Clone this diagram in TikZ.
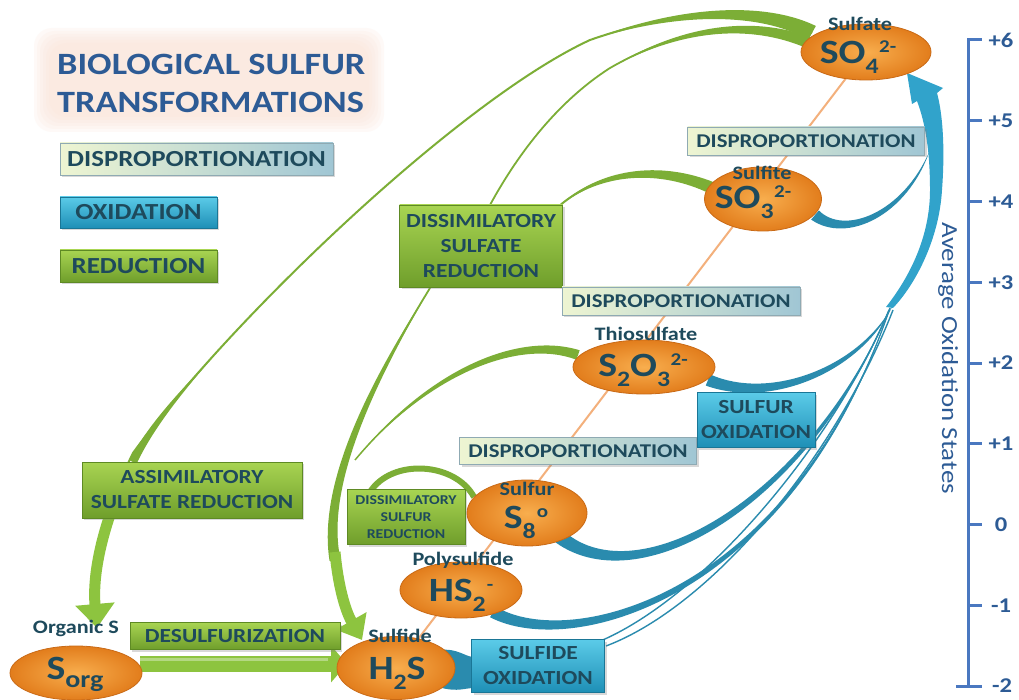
\documentclass[tikz,border=0pt]{standalone}
\usepackage{fontspec}
\setmainfont{Carlito}
\newfontfamily\wf[FakeStretch=1.17]{Carlito}
\usetikzlibrary{calc,arrows.meta,shadows,shapes.geometric}
\definecolor{txt}{HTML}{1E4A5C}
\definecolor{ttl}{HTML}{2D5B95}
\definecolor{axc}{HTML}{4A78C0}
\definecolor{oraIn}{HTML}{F8AE4E}
\definecolor{oraOut}{HTML}{E27D1C}
\definecolor{oraD}{HTML}{C96A16}
\definecolor{oline}{HTML}{F3B07C}
\definecolor{grn}{HTML}{7CAE36}
\definecolor{grnA}{HTML}{8DC43F}
\definecolor{grnT}{HTML}{A8D452}
\definecolor{grnB}{HTML}{6F9E2B}
\definecolor{grnD}{HTML}{5E8A24}
\definecolor{blu}{HTML}{2A8BAE}
\definecolor{bluA}{HTML}{31A3CB}
\definecolor{bluT}{HTML}{5BCBE8}
\definecolor{bluB}{HTML}{1E8FB6}
\definecolor{bluD}{HTML}{1A7696}
\definecolor{dspL}{HTML}{EEF5D2}
\definecolor{dspR}{HTML}{A0C6D4}
\definecolor{dspD}{HTML}{8FAAB3}
\definecolor{glow}{HTML}{FBE3D6}
\newcommand{\subx}[1]{\raisebox{-10pt}{\fontsize{22}{22}\selectfont #1}}
\newcommand{\supx}[1]{\raisebox{11pt}{\fontsize{18}{18}\selectfont #1}}
\newcommand{\taper}[6]{%
\fill[#1] let \p1=(#2), \p2=(#3), \p3=(#4), \p4=(#5),
 \n1={atan2(\y2-\y1,\x2-\x1)}, \n2={atan2(\y3-\y2,\x3-\x2)}, \n3={atan2(\y4-\y3,\x4-\x3)} in
 ($(\p1)+(\n1+90:#6)$) .. controls ($(\p2)+(\n2+90:0.8*#6)$) and ($(\p3)+(\n3+90:0.4*#6)$) .. (\p4)
 .. controls ($(\p3)+(\n3-90:0.4*#6)$) and ($(\p2)+(\n2-90:0.8*#6)$) .. ($(\p1)+(\n1-90:#6)$) -- cycle;}
\tikzset{
 lbl/.style={text=txt, font=\wf\bfseries\fontsize{20}{25}\selectfont, align=center, inner sep=0pt},
 shd/.style={drop shadow={opacity=.3,shadow xshift=2pt,shadow yshift=-2pt}},
 redbox/.style={lbl, shd, draw=grnD, line width=0.8pt, top color=grnT, bottom color=grnB},
 oxbox/.style={lbl, shd, draw=bluD, line width=0.8pt, top color=bluT, bottom color=bluB},
 dspbox/.style={lbl, shd, draw=dspD, line width=0.8pt, left color=dspL, right color=dspR, font=\wf\bfseries\fontsize{19.5}{24}\selectfont},
 spec/.style={ellipse, draw=oraD, line width=0.8pt, inner color=oraIn, outer color=oraOut, inner sep=0pt},
 nm/.style={text=txt, font=\wf\bfseries\fontsize{19}{19}\selectfont, inner sep=0pt, anchor=base},
 fm/.style={text=txt, font=\wf\bfseries\fontsize{34}{34}\selectfont, inner sep=0pt, anchor=base},
 axlbl/.style={text=ttl, font=\wf\bfseries\fontsize{21}{21}\selectfont, inner sep=0pt},
}
\begin{document}
\begin{tikzpicture}[x=1pt,y=-1pt]
\useasboundingbox (0,0) rectangle (1019,700);
\fill[white] (0,0) rectangle (1019,700);
% title glow
\foreach \k in {0,...,5} {
  \fill[glow, opacity=0.18, rounded corners=18pt] (34+3*\k,28+3*\k) rectangle (384-3*\k,132-3*\k);
}
% species centres
\coordinate (c-so4) at (866,52);
\coordinate (c-so3) at (763,199);
\coordinate (c-s2o3) at (644,367);
\coordinate (c-s8) at (527,513);
\coordinate (c-hs2) at (461,590);
\coordinate (c-h2s) at (396,668);
\coordinate (c-sorg) at (76,673);
% disproportionation axis line
\draw[oline, line width=2pt] (c-h2s) -- (c-so4);
% ---------------- reduction (green) ----------------
% assimilatory
\taper{grn}{812,33}{770,10}{690,5}{590,40}{8pt}
\draw[grn, line width=2pt] (812,33) .. controls (770,10) and (690,5) .. (590,40) .. controls (460,100) and (230,320) .. (133,453) .. controls (110,500) and (95,540) .. (96,590);
\taper{grn}{133,462}{150,428}{178,395}{212,358}{4pt}
\draw[grnA, line width=11pt, -{Triangle[length=24pt,width=38pt]}] (126,475) .. controls (105,520) and (92,570) .. (97,628);
% dissimilatory sulfate
\taper{grn}{812,44}{760,22}{690,22}{610,68}{6pt}
\draw[grn, line width=1.8pt] (812,44) .. controls (760,22) and (690,22) .. (610,68) .. controls (560,100) and (520,150) .. (490,205);
\draw[grn, line width=1.8pt] (430,288) .. controls (380,370) and (320,480) .. (335,560);
\taper{grn}{335,560}{320,480}{380,370}{430,288}{5.5pt}
\draw[grnA, line width=11pt, -{Triangle[length=22pt,width=34pt]}] (335,552) .. controls (338,585) and (345,610) .. (362,640);
% sulfite
\taper{grn}{712,188}{660,165}{600,170}{558,207}{6pt}
\draw[grn, line width=2pt] (712,188) .. controls (660,165) and (600,170) .. (558,207);
% thiosulfate
\taper{grn}{578,355}{520,335}{430,370}{355,460}{5pt}
\draw[grn, line width=1.5pt] (578,355) .. controls (520,335) and (430,370) .. (355,460);
% sulfur
\draw[grn, line width=6pt] (474,497) .. controls (455,462) and (392,458) .. (370,492);
% ---------------- oxidation (blue) ----------------
\taper{blu}{815,215}{845,240}{905,215}{930,150}{6pt}
\taper{blu}{708,380}{770,405}{860,370}{893,305}{6pt}
\taper{blu}{560,537}{640,600}{810,500}{890,308}{7pt}
\draw[blu, line width=1.2pt] (560,537) .. controls (640,600) and (810,500) .. (890,308);
\taper{blu}{493,612}{570,655}{790,600}{890,308}{6pt}
\draw[blu, line width=1.2pt] (493,612) .. controls (570,655) and (790,600) .. (890,308);
\draw[blu, line width=1.4pt] (598,642) .. controls (700,600) and (830,450) .. (889,310);
\draw[blu, line width=1.4pt] (606,646) .. controls (712,606) and (836,456) .. (893,310);
% big arrow to sulfate
\fill[bluA] (886,307) .. controls (915,270) and (930,230) .. (930,190) .. controls (930,150) and (925,122) .. (917,101) -- (912,104) -- (907,73) -- (943,88) -- (937,93) .. controls (943,115) and (945,150) .. (942,190) .. controls (939,240) and (915,285) .. (893,308) -- cycle;
% sulfide -> sulfide oxidation band
\fill[blu] (440,650) .. controls (458,648) and (465,657) .. (474,657) -- (474,688) .. controls (465,688) and (458,692) .. (442,688) -- cycle;
% desulfurization arrow
\draw[grnA, line width=16pt, -{Triangle[length=16pt,width=36pt]}] (140,664) -- (347,664);
\draw[white, opacity=0.35, line width=3pt] (140,659) -- (328,659);
% ---------------- boxes ----------------
\node[redbox, minimum width=163pt, minimum height=82pt] (dsr) at (481,246) {DISSIMILATORY\\SULFATE\\REDUCTION};
\node[dspbox, minimum width=237pt, minimum height=28pt] (disp1) at (806,141) {DISPROPORTIONATION};
\node[dspbox, minimum width=238pt, minimum height=28pt] (disp2) at (681,301) {DISPROPORTIONATION};
\node[dspbox, minimum width=237pt, minimum height=27pt] (disp3) at (578,451) {DISPROPORTIONATION};
\node[oxbox, minimum width=118pt, minimum height=55pt] (sox) at (756,420) {SULFUR\\OXIDATION};
\node[redbox, minimum width=118pt, minimum height=55pt, font=\wf\bfseries\fontsize{13.5}{17}\selectfont] (dsr2) at (406,517) {DISSIMILATORY\\SULFUR\\REDUCTION};
\node[oxbox, minimum width=133pt, minimum height=53pt] (sfox) at (538,666) {SULFIDE\\OXIDATION};
\node[redbox, minimum width=220pt, minimum height=56pt] (asr) at (192,490) {ASSIMILATORY\\SULFATE REDUCTION};
\node[redbox, minimum width=210pt, minimum height=27pt] (desulf) at (235,636) {DESULFURIZATION};
% ---------------- species ----------------
\node[spec, minimum width=130pt, minimum height=56pt] (so4) at (c-so4) {};
\node[spec, minimum width=117pt, minimum height=64pt] (so3) at (c-so3) {};
\node[spec, minimum width=142pt, minimum height=54pt] (s2o3) at (c-s2o3) {};
\node[spec, minimum width=120pt, minimum height=66pt] (s8) at (c-s8) {};
\node[spec, minimum width=122pt, minimum height=56pt] (hs2) at (c-hs2) {};
\node[spec, minimum width=118pt, minimum height=63pt] (h2s) at (c-h2s) {};
\node[spec, minimum width=132pt, minimum height=54pt] (sorg) at (c-sorg) {};
\node[nm] (so4n) at (860,31) {Sulfate};
\node[fm] (so4f) at (858,64) {SO\subx{4}\kern0.5pt\supx{2-}};
\node[nm] (so3n) at (762,180) {Sulfite};
\node[fm] (so3f) at (753,209) {SO\subx{3}\kern0.5pt\supx{2-}};
\node[nm] (s2o3n) at (646,340) {Thiosulfate};
\node[fm] (s2o3f) at (643,376) {S\subx{2}O\subx{3}\kern0.5pt\supx{2-}};
\node[nm] (s8n) at (527,495) {Sulfur};
\node[fm] (s8f) at (526,528) {S\subx{8}\kern1pt\supx{o}};
\node[nm] (hs2n) at (463,565) {Polysulfide};
\node[fm] (hs2f) at (461,601) {HS\subx{2}\kern1pt\supx{-}};
\node[nm] (h2sn) at (400,642) {Sulfide};
\node[fm] (h2sf) at (397,679) {H\subx{2}S};
\node[nm] (sorgn) at (76,633) {Organic S};
\node[fm] (sorgf) at (75,679) {S\raisebox{-8pt}{\fontsize{24}{24}\selectfont org}};
% ---------------- title & legend ----------------
\node[anchor=base west, text=ttl, font=\wf\bfseries\fontsize{31}{31}\selectfont, inner sep=0pt] (title1) at (57,75) {BIOLOGICAL SULFUR};
\node[anchor=base west, text=ttl, font=\wf\bfseries\fontsize{31}{31}\selectfont, inner sep=0pt] (title2) at (57,113) {TRANSFORMATIONS};
\node[dspbox, minimum width=273pt, minimum height=32pt, font=\wf\bfseries\fontsize{23}{23}\selectfont] (lgd) at (196.5,159) {DISPROPORTIONATION};
\node[oxbox, minimum width=157pt, minimum height=31pt, font=\wf\bfseries\fontsize{23}{23}\selectfont] (lgo) at (138.5,212.5) {OXIDATION};
\node[redbox, minimum width=157pt, minimum height=32pt, font=\wf\bfseries\fontsize{23}{23}\selectfont] (lgr) at (138.5,266) {REDUCTION};
% ---------------- axis ----------------
\draw[axc, line width=3pt] (968,38.5) -- (968,687.5);
\draw[axc, line width=3pt] (956,686) -- (982,686);
\foreach \v [count=\i from 0] in {+6,+5,+4,+3,+2,+1,0,-1} {
  \draw[axc, line width=3pt] (968,40+80.75*\i) -- (982,40+80.75*\i);
  \node[axlbl] (ax\i) at (1001,40+80.75*\i) {\v};
}
\node[axlbl] (ax8) at (1002,686) {-2};
\node[rotate=-90, text=ttl, font=\wf\fontsize{23}{23}\selectfont, inner sep=0pt] (axt) at (948,358) {Average Oxidation States};
\end{tikzpicture}
\end{document}
